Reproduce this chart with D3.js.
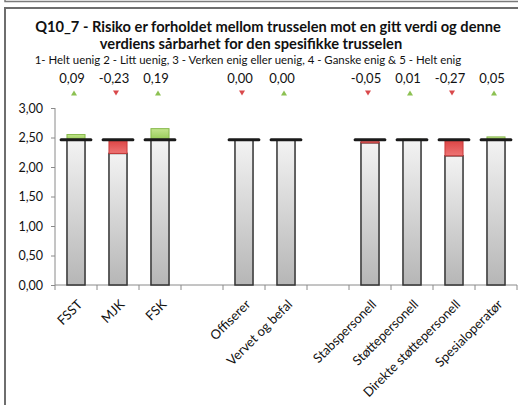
<!DOCTYPE html>
<html>
<head>
<meta charset="utf-8">
<script src="https://cdn.jsdelivr.net/npm/d3@7"></script>
<style>
  html, body { margin: 0; padding: 0; background: #fff; }
  svg { display: block; }
  text { font-family: Lato, "Open Sans", sans-serif; fill: #111; }
</style>
</head>
<body>
<svg id="chart" width="518" height="405"></svg>
<script>
// Categories along the x axis (empty strings are spacer slots between groups)
const categories = ["FSST", "MJK", "FSK", "", "Offiserer", "Vervet og befal", "",
  "Stabspersonell", "Støttepersonell", "Direkte støttepersonell", "Spesialoperatør"];
// Overall mean that every group is compared against
const baseValue = 2.46;
// Difference from the overall mean per group (null = spacer)
const deltas = [0.09, -0.23, 0.19, null, -0.004, 0.004, null, -0.05, 0.01, -0.27, 0.05];
// Y axis ticks
const yTicks = [0, 0.5, 1, 1.5, 2, 2.5, 3];

const titleLines = [
  "Q10_7 - Risiko er forholdet mellom trusselen mot en gitt verdi og denne",
  "verdiens sårbarhet for den spesifikke trusselen"
];
const subtitle = "1- Helt uenig 2 - Litt uenig, 3  - Verken enig eller uenig, 4 - Ganske enig & 5 - Helt enig";

const nb = d3.formatLocale({decimal: ",", thousands: " ", grouping: [3], currency: ["", ""], minus: "-"});
const fmt = nb.format(".2f");

const svg = d3.select("#chart");

// Frame
svg.append("path").attr("d", "M5,0 V1.5 H518").attr("fill", "none").attr("stroke", "#7a7a7a").attr("stroke-width", 1.5);
svg.append("path").attr("d", "M5,405 V8 H518").attr("fill", "none").attr("stroke", "#6e6e6e").attr("stroke-width", 2);

// Gradients
const defs = svg.append("defs");
function grad(id, top, bottom) {
  const g = defs.append("linearGradient").attr("id", id).attr("x1", 0).attr("y1", 0).attr("x2", 0).attr("y2", 1);
  g.append("stop").attr("offset", "0%").attr("stop-color", top);
  g.append("stop").attr("offset", "100%").attr("stop-color", bottom);
}
grad("gGray", "#f3f3f3", "#b6b6b6");
grad("gGreen", "#c4e68e", "#95cb55");
grad("gRed", "#dc4343", "#ee7474");

// Title text, fitted to width
function fitText(sel, targetW) {
  const w = sel.node().getComputedTextLength();
  const fs = parseFloat(sel.attr("font-size"));
  const size = fs * targetW / w;
  sel.attr("font-size", size.toFixed(2));
  return size;
}
const t1 = svg.append("text").attr("x", 268).attr("y", 32).attr("text-anchor", "middle")
  .attr("font-weight", "bold").attr("font-size", 14).text(titleLines[0]);
const titleSize = fitText(t1, 466);
svg.append("text").attr("x", 251).attr("y", 49).attr("text-anchor", "middle")
  .attr("font-weight", "bold").attr("font-size", titleSize.toFixed(2)).text(titleLines[1]);
const st = svg.append("text").attr("x", 248).attr("y", 64).attr("text-anchor", "middle")
  .attr("font-size", 10).text(subtitle);
fitText(st, 427);

// Scales
const plotLeft = 55, plotRight = 517, plotTop = 108, plotBottom = 285;
const x = d3.scaleBand().domain(d3.range(categories.length)).range([plotLeft, plotRight]).padding(0);
const y = d3.scaleLinear().domain([0, 3]).range([plotBottom, plotTop]);

// Y axis
const yAxis = svg.append("g").attr("transform", `translate(${plotLeft},0)`)
  .call(d3.axisLeft(y).tickValues(yTicks).tickFormat(fmt).tickSize(4).tickPadding(8));
yAxis.select(".domain").attr("stroke", "#8a8a8a").attr("d", `M0,${plotBottom}V${plotTop}`);
yAxis.selectAll(".tick line").attr("stroke", "#8a8a8a");
yAxis.selectAll(".tick text").attr("font-size", 12.5).attr("fill", "#111")
  .attr("font-family", "Lato, sans-serif");

// X axis line with ticks on category boundaries
svg.append("line").attr("x1", plotLeft).attr("x2", plotRight).attr("y1", plotBottom).attr("y2", plotBottom)
  .attr("stroke", "#8a8a8a");
const bounds = d3.range(categories.length).map(i => x(i)).concat([x(categories.length - 1) + x.bandwidth()]);
svg.append("g").selectAll("line").data(bounds).join("line")
  .attr("x1", d => d).attr("x2", d => d).attr("y1", plotBottom).attr("y2", plotBottom + 5)
  .attr("stroke", "#8a8a8a");

// Data rows
const rows = categories.map((c, i) => ({i, c, d: deltas[i]})).filter(r => r.d !== null);

const barW = x.bandwidth() * 0.43;
const capW = x.bandwidth() * 0.71;
const cx = i => x(i) + x.bandwidth() / 2;

const bars = svg.append("g");
// Gray base bar up to the lower of mean and group value
bars.selectAll("rect.base").data(rows).join("rect").attr("class", "base")
  .attr("x", r => cx(r.i) - barW / 2).attr("width", barW)
  .attr("y", r => y(Math.min(baseValue, baseValue + r.d)))
  .attr("height", r => y(0) - y(Math.min(baseValue, baseValue + r.d)))
  .attr("fill", "url(#gGray)").attr("stroke", "#333").attr("stroke-width", 1.5);
// Difference segment
bars.selectAll("rect.diff").data(rows.filter(r => Math.abs(r.d) >= 0.005)).join("rect").attr("class", "diff")
  .attr("x", r => cx(r.i) - barW / 2).attr("width", barW)
  .attr("y", r => y(Math.max(baseValue, baseValue + r.d)))
  .attr("height", r => Math.abs(y(baseValue) - y(baseValue + r.d)))
  .attr("fill", r => r.d > 0 ? "url(#gGreen)" : "url(#gRed)")
  .attr("stroke", r => r.d > 0 ? "#86b84a" : "#c83a3a").attr("stroke-width", 1);
// Mean marker
bars.selectAll("line.cap").data(rows).join("line").attr("class", "cap")
  .attr("x1", r => cx(r.i) - capW / 2).attr("x2", r => cx(r.i) + capW / 2)
  .attr("y1", y(baseValue)).attr("y2", y(baseValue))
  .attr("stroke", "#1a1a1a").attr("stroke-width", 3).attr("stroke-linecap", "round");

// Value labels
svg.append("g").selectAll("text").data(rows).join("text")
  .attr("x", r => cx(r.i) - 4).attr("y", 83).attr("text-anchor", "middle")
  .attr("font-size", 13).text(r => fmt(r.d));

// Direction triangles
svg.append("g").selectAll("path").data(rows).join("path")
  .attr("transform", r => `translate(${cx(r.i) - 2},93)`)
  .attr("d", r => r.d >= 0 ? "M-3,2.5 L3,2.5 L0,-2.5 Z" : "M-3,-2.5 L3,-2.5 L0,2.5 Z")
  .attr("fill", r => r.d >= 0 ? "#8cc152" : "#d9484b");

// Category labels
svg.append("g").selectAll("text").data(rows).join("text")
  .attr("transform", r => `translate(${cx(r.i) + 4},${plotBottom + 17}) rotate(-45)`)
  .attr("text-anchor", "end").attr("dy", "0.35em")
  .attr("font-size", 13).text(r => r.c);
</script>
</body>
</html>
